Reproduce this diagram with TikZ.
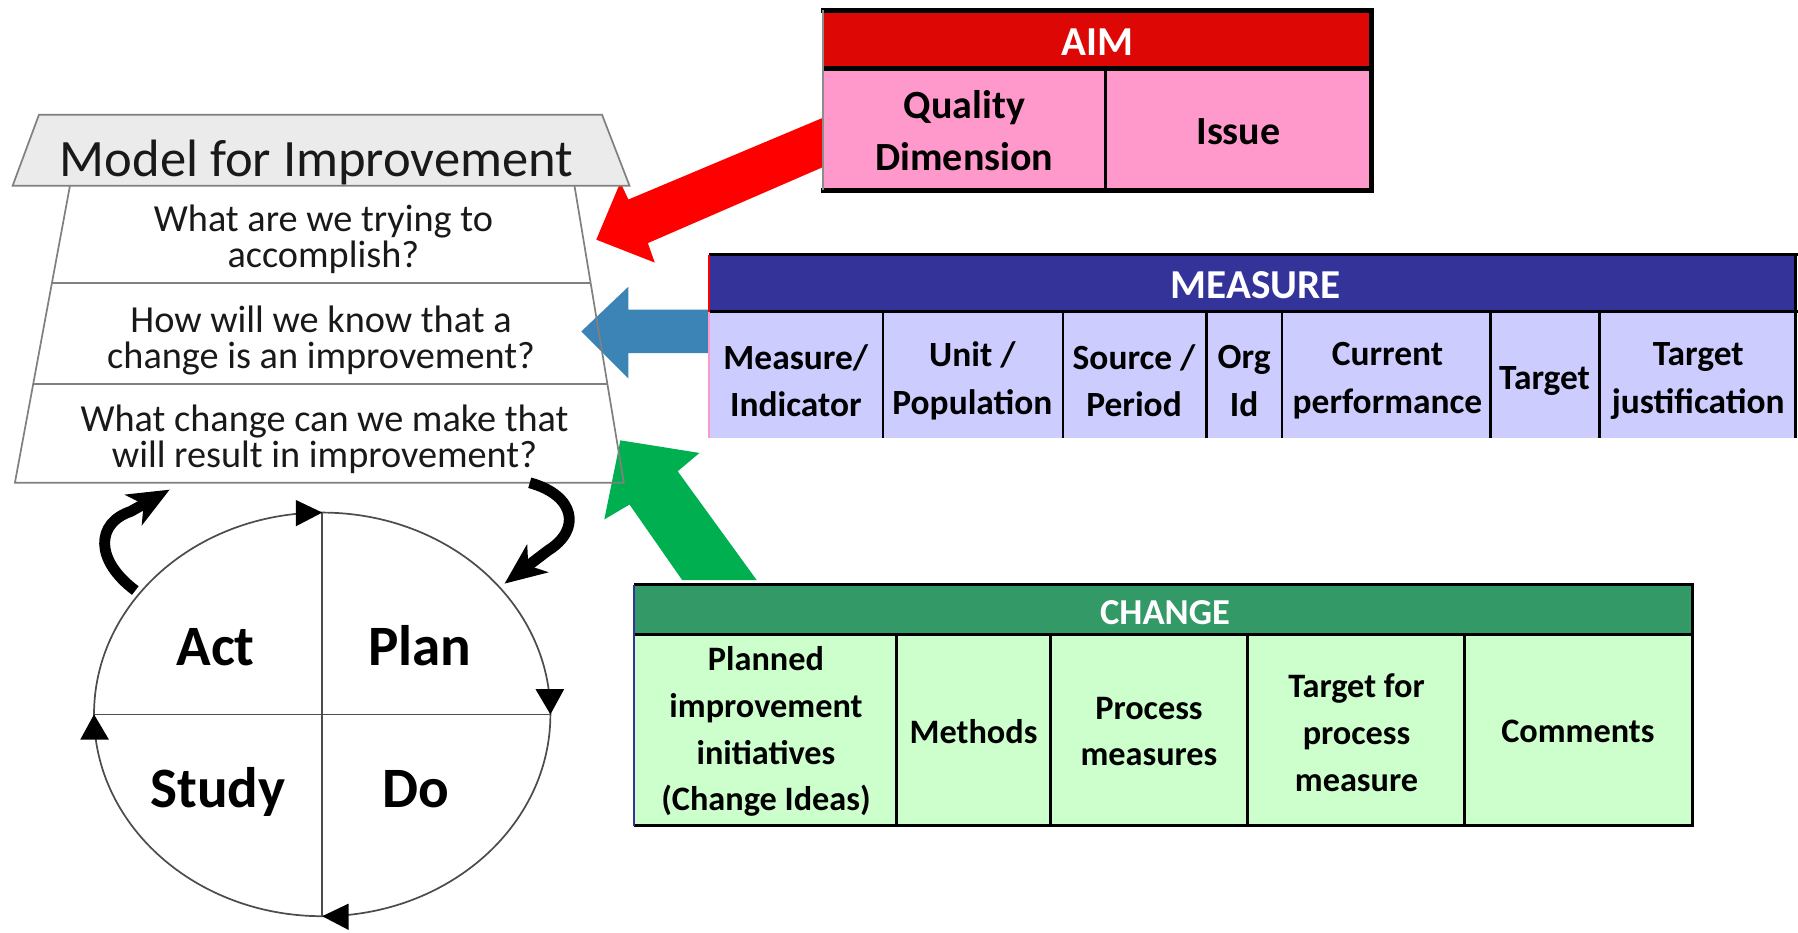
\documentclass[tikz,border=0pt]{standalone}
\usepackage{fontspec}
\setmainfont{Carlito}
\usetikzlibrary{arrows.meta}
\definecolor{aimred}{HTML}{DD0806}
\definecolor{aimpink}{HTML}{FF99CC}
\definecolor{arrred}{HTML}{FF0000}
\definecolor{arrblue}{HTML}{3C84B6}
\definecolor{arrgreen}{HTML}{00B050}
\definecolor{mhead}{HTML}{333399}
\definecolor{mbody}{HTML}{CCCCFF}
\definecolor{chead}{HTML}{339966}
\definecolor{cbody}{HTML}{CCFFCC}
\definecolor{hdrgray}{HTML}{EBEBEB}
\definecolor{trapgray}{HTML}{808080}
\tikzset{
  trap/.style={draw=trapgray, line width=1.5},
  qtext/.style={font=\fontsize{33.5}{31.5}\selectfont, align=center, inner sep=0, text=black!90},
  titletext/.style={font=\fontsize{46}{46}\selectfont, inner sep=0, text=black!90, anchor=base},
  pdsa/.style={font=\bfseries\fontsize{50}{50}\selectfont, inner sep=0, anchor=base},
  hdrtxt/.style={font=\bfseries\fontsize{36}{36}\selectfont, text=white, inner sep=0},
  aimtxt/.style={font=\bfseries\fontsize{35}{46}\selectfont, align=center, inner sep=0},
  mtxt/.style={font=\bfseries\fontsize{31}{42}\selectfont, align=center, inner sep=0},
  ctxt/.style={font=\bfseries\fontsize{30}{41}\selectfont, align=center, inner sep=0},
  circline/.style={draw=black!70, line width=1.5},
  curvy/.style={line width=9.5, -{Stealth[length=36bp,width=30bp,inset=10bp]}},
  tline/.style={line width=2.5},
}
\begin{document}
\begin{tikzpicture}[x=1bp,y=-1bp]
\useasboundingbox (0,0) rectangle (1568,813);

% ---- big coloured arrows (behind tables) ----
\fill[arrred] (717,103) -- (548,174) -- (541,159) -- (520,209) -- (571,229) -- (565,212) -- (717,146) -- cycle;
\fill[arrblue] (507,289) -- (548,250) -- (548,270) -- (618,270) -- (618,308) -- (548,308) -- (548,330) -- cycle;
\fill[arrgreen] (541,384) -- (610,395) -- (591,411) -- (660,506) -- (595,506) -- (549,440) -- (527,453) -- cycle;

% ---- Model for Improvement trapezoid ----
\draw[trap, fill=hdrgray] (34,100) -- (525,100) -- (549,162) -- (11,162) -- cycle;
\draw[trap] (501,162) -- (544,421) -- (13,421) -- (61,162);
\draw[trap] (45.4,247) -- (515.3,247);
\draw[trap] (29,335) -- (530,335);
\node[titletext] (title) at (276,154) {Model for Improvement};
\node[qtext] (q1) at (282,209) {What are we trying to\\accomplish?};
\node[qtext] (q2) at (280,297) {How will we know that a\\change is an improvement?};
\node[qtext] (q3) at (283,383) {What change can we make that\\will result in improvement?};

% ---- PDSA cycle ----
\draw[circline] (281,623) ellipse [x radius=199, y radius=176];
\draw[circline] (281,447) -- (281,799);
\draw[circline] (82,623) -- (480,623);
\fill (281,447) -- (258,436) -- (258,459) -- cycle;
\fill (480,623) -- (467,601) -- (492,601) -- cycle;
\fill (281,799) -- (304,788) -- (304,811) -- cycle;
\fill (82,623) -- (70,645) -- (95,645) -- cycle;
\node[pdsa] (act) at (188,580) {Act};
\node[pdsa] (plan) at (366,580) {Plan};
\node[pdsa] (study) at (190,704) {Study};
\node[pdsa] (do) at (363,704) {Do};

\coordinate (la) at (118,515);
\coordinate (lb) at (148,427);
\coordinate (ra) at (462,421);
\coordinate (rb) at (440,509);
\draw[curvy] (la) .. controls (82,488) and (84,456) .. (114,446) -- (lb);
\draw[curvy] (ra) .. controls (502,432) and (507,462) .. (478,480) -- (rb);

% ---- AIM table ----
\fill[aimred] (718,9) rectangle (1196,60);
\fill[aimpink] (718,60) rectangle (1196,166);
\draw[line width=4.5] (716,9) -- (1196,9) -- (1196,166) -- (716,166);
\draw[line width=4.5] (718,60) -- (1196,60);
\draw[line width=3] (964,60) -- (964,166);
\draw[draw=black!45, line width=2] (718,9) -- (718,166);
\node[hdrtxt] (aimh) at (957,37) {AIM};
\node[aimtxt] (qd) at (841,114) {Quality\\Dimension};
\node[aimtxt] (iss) at (1080,115) {Issue};

% ---- MEASURE table ----
\fill[mhead] (618,222) rectangle (1566,272);
\fill[mbody] (618,272) rectangle (1566,382);
\draw[tline] (618,222) -- (1568,222);
\draw[tline] (618,272) -- (1568,272);
\draw[tline] (1566,222) -- (1566,382);
\foreach \cx in {770,927,1052,1118,1300,1395} \draw[tline] (\cx,272) -- (\cx,382);
\draw[arrred, line width=2] (618,222) -- (618,272);
\draw[aimpink, line width=2] (618,272) -- (618,382);
\node[hdrtxt] (mh) at (1095,249) {MEASURE};
\node[mtxt] (m1) at (694,332) {Measure/\\Indicator};
\node[mtxt] (m2) at (848,332) {Unit /\\Population};
\node[mtxt] (m3) at (989,332) {Source /\\Period};
\node[mtxt] (m4) at (1085,332) {Org\\Id};
\node[mtxt] (m5) at (1210,332) {Current\\performance};
\node[mtxt] (m6) at (1347,332) {Target};
\node[mtxt] (m7) at (1481,332) {Target\\justification};

% ---- CHANGE table ----
\fill[chead] (553,510) rectangle (1476,553);
\fill[cbody] (553,553) rectangle (1476,720);
\draw[tline] (553,510) -- (1476,510) -- (1476,720);
\draw[tline] (553,553) -- (1476,553);
\draw[line width=3] (553,720) -- (1477,720);
\foreach \cx in {782,916,1088,1277} \draw[tline] (\cx,553) -- (\cx,720);
\draw[mhead, line width=2] (553,510) -- (553,720);
\node[hdrtxt, font=\bfseries\fontsize{32}{32}\selectfont] (ch) at (1016,534) {CHANGE};
\node[ctxt] (c1) at (668,638) {Planned\\improvement\\initiatives\\(Change Ideas)};
\node[ctxt] (c2) at (849,638) {Methods};
\node[ctxt] (c3) at (1002,638) {Process\\measures};
\node[ctxt] (c4) at (1183,639) {Target for\\process\\measure};
\node[ctxt] (c5) at (1376,638) {Comments};
\end{tikzpicture}
\end{document}
